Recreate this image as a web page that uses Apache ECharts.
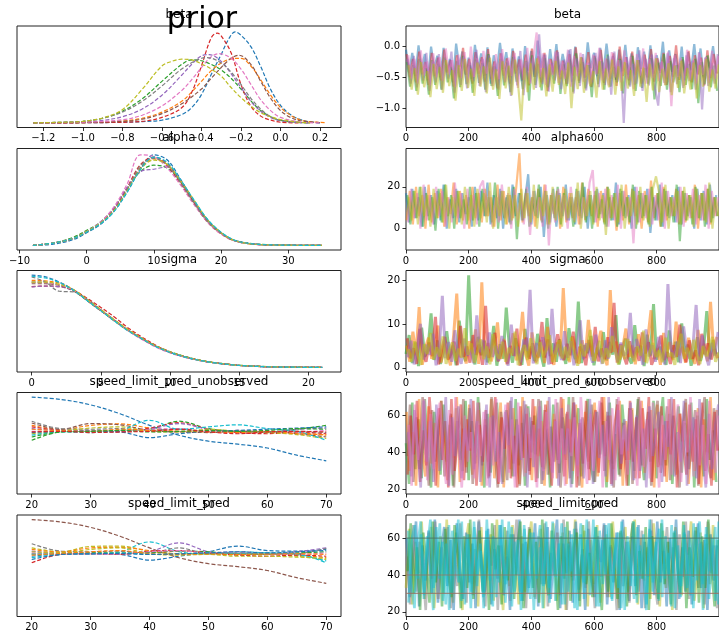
<!DOCTYPE html>
<html><head><meta charset="utf-8">
<script src="https://cdn.jsdelivr.net/npm/echarts@6/dist/echarts.min.js"></script>
<style>html,body{margin:0;padding:0;background:#fff}#c{width:719px;height:636px}</style>
</head><body><div id="c"></div>
<script>
// ---------------- DATA ----------------
const suptitle = 'prior';
const varNames = ['beta', 'alpha', 'sigma', 'speed_limit_pred_unobserved', 'speed_limit_pred'];

// tick labels
const betaKdeTicks = [-1.2, -1.0, -0.8, -0.6, -0.4, -0.2, 0.0, 0.2];
const alphaKdeTicks = [-10, 0, 10, 20, 30];
const sigmaKdeTicks = [0, 5, 10, 15, 20];
const predKdeTicks = [20, 30, 40, 50, 60, 70];
const drawTicks = [0, 200, 400, 600, 800];
const betaTraceTicks = [-1.0, -0.5, 0.0];
const alphaTraceTicks = [0, 20];
const sigmaTraceTicks = [0, 10, 20];
const predTraceTicks = [20, 40, 60];

// beta KDE curves per chain: [value, density]
const betaKdeBlue = [[-1.25,0],[-1.0,0.005],[-0.8,0.02],[-0.7,0.04],[-0.6,0.09],[-0.5,0.27],[-0.45,0.49],[-0.4,0.92],[-0.35,1.58],[-0.3,2.23],[-0.26,2.75],[-0.23,2.96],[-0.2,2.85],[-0.15,2.48],[-0.1,1.83],[-0.05,1.09],[0.0,0.57],[0.05,0.27],[0.1,0.11],[0.15,0.03],[0.2,0]];
const betaKdeOrange = [[-1.25,0],[-1.0,0.01],[-0.8,0.06],[-0.7,0.15],[-0.6,0.35],[-0.5,0.7],[-0.45,1.0],[-0.4,1.35],[-0.35,1.7],[-0.3,1.95],[-0.25,2.08],[-0.2,2.1],[-0.15,1.85],[-0.1,1.4],[-0.05,0.9],[0.0,0.5],[0.05,0.25],[0.1,0.1],[0.15,0.04],[0.23,0.01]];
const betaKdeGreen = [[-1.25,0],[-1.1,0.02],[-1.0,0.05],[-0.9,0.15],[-0.8,0.38],[-0.7,0.78],[-0.6,1.35],[-0.5,1.9],[-0.45,2.05],[-0.4,2.02],[-0.35,1.9],[-0.3,1.72],[-0.25,1.45],[-0.2,1.1],[-0.15,0.72],[-0.1,0.4],[-0.05,0.2],[0.0,0.08],[0.1,0.01],[0.15,0]];
const betaKdeRed = [[-1.25,0],[-0.9,0.01],[-0.7,0.05],[-0.6,0.18],[-0.5,0.49],[-0.45,0.98],[-0.4,1.85],[-0.35,2.77],[-0.32,2.92],[-0.3,2.83],[-0.25,2.28],[-0.2,1.25],[-0.15,0.54],[-0.1,0.22],[-0.05,0.09],[0.0,0.02],[0.1,0]];
const betaKdePurple = [[-1.25,0],[-1.0,0.03],[-0.9,0.08],[-0.8,0.2],[-0.7,0.45],[-0.6,0.9],[-0.5,1.55],[-0.45,1.9],[-0.4,2.18],[-0.36,2.22],[-0.3,2.0],[-0.25,1.6],[-0.2,1.15],[-0.15,0.7],[-0.1,0.38],[-0.05,0.18],[0.0,0.07],[0.1,0.01],[0.15,0]];
const betaKdeBrown = [[-1.25,0],[-1.0,0.01],[-0.8,0.05],[-0.7,0.12],[-0.6,0.3],[-0.5,0.62],[-0.4,1.1],[-0.35,1.45],[-0.3,1.8],[-0.25,2.1],[-0.21,2.2],[-0.15,1.9],[-0.1,1.35],[-0.05,0.8],[0.0,0.4],[0.05,0.18],[0.1,0.07],[0.2,0.01]];
const betaKdePink = [[-1.25,0],[-1.0,0.02],[-0.8,0.1],[-0.7,0.25],[-0.6,0.55],[-0.5,1.05],[-0.45,1.4],[-0.4,1.8],[-0.35,2.15],[-0.31,2.25],[-0.25,2.1],[-0.2,1.75],[-0.15,1.25],[-0.1,0.75],[-0.05,0.4],[0.0,0.18],[0.1,0.03],[0.2,0]];
const betaKdeGray = [[-1.25,0],[-1.1,0.02],[-1.0,0.05],[-0.9,0.15],[-0.8,0.35],[-0.7,0.7],[-0.6,1.2],[-0.5,1.75],[-0.4,2.1],[-0.37,2.12],[-0.3,1.95],[-0.25,1.65],[-0.2,1.25],[-0.15,0.8],[-0.1,0.45],[-0.05,0.2],[0.0,0.08],[0.1,0.01]];
const betaKdeOlive = [[-1.25,0],[-1.1,0.02],[-1.0,0.05],[-0.9,0.16],[-0.8,0.43],[-0.7,1.09],[-0.6,1.85],[-0.55,2.0],[-0.5,2.07],[-0.45,2.05],[-0.4,1.92],[-0.35,1.75],[-0.3,1.52],[-0.25,1.15],[-0.2,0.82],[-0.15,0.55],[-0.1,0.33],[-0.05,0.2],[0.0,0.11],[0.1,0.02],[0.15,0]];

// alpha KDE
const alphaKdeX = [-8,-5,-2,0,2,4,6,8,10,12,14,16,18,20,22,25,30,35];
const alphaKdeY = [
  [0,0.001,0.005,0.011,0.018,0.029,0.046,0.066,0.0785,0.074,0.057,0.038,0.022,0.011,0.0045,0.0012,0.0002,0],
  [0,0.002,0.006,0.012,0.019,0.03,0.048,0.067,0.075,0.07,0.055,0.037,0.021,0.0105,0.004,0.001,0.0002,0],
  [0,0.002,0.007,0.013,0.02,0.032,0.049,0.064,0.0695,0.067,0.055,0.038,0.022,0.011,0.0045,0.0013,0.0002,0],
  [0,0.002,0.006,0.012,0.019,0.031,0.05,0.07,0.0765,0.069,0.053,0.036,0.02,0.01,0.004,0.001,0.0001,0],
  [0,0.002,0.006,0.012,0.02,0.032,0.05,0.064,0.066,0.068,0.056,0.038,0.021,0.0105,0.004,0.001,0.0002,0],
  [0,0.002,0.006,0.0115,0.019,0.03,0.047,0.067,0.0765,0.071,0.055,0.037,0.021,0.0108,0.0042,0.001,0.0002,0],
  [0,0.002,0.006,0.012,0.02,0.033,0.053,0.0785,0.077,0.067,0.052,0.035,0.02,0.0098,0.004,0.001,0.0002,0],
  [0,0.002,0.006,0.0118,0.019,0.03,0.048,0.069,0.0755,0.0695,0.054,0.0365,0.0205,0.0104,0.004,0.001,0.0002,0],
  [0,0.002,0.006,0.012,0.019,0.03,0.047,0.066,0.074,0.07,0.056,0.039,0.022,0.011,0.0042,0.001,0.0002,0],
  [0,0.002,0.006,0.0115,0.0185,0.029,0.046,0.066,0.0765,0.072,0.0565,0.039,0.0225,0.0115,0.0045,0.0012,0.0002,0]
];

// sigma KDE
const sigmaKdeX = [0,1,2,3,4,5,6,7,8,9,10,11,12,13,14,15,17,19,21];
const sigmaKdeY = [
  [0.16,0.157,0.148,0.135,0.117,0.099,0.081,0.064,0.049,0.036,0.026,0.018,0.0125,0.0085,0.0055,0.0033,0.001,0.0003,0],
  [0.151,0.15,0.146,0.135,0.118,0.1,0.082,0.065,0.05,0.037,0.026,0.019,0.013,0.0088,0.006,0.0036,0.0012,0.0004,0],
  [0.148,0.147,0.143,0.133,0.116,0.098,0.08,0.063,0.049,0.037,0.027,0.0195,0.0135,0.009,0.006,0.0038,0.0015,0.0006,0.0002],
  [0.14,0.141,0.14,0.134,0.12,0.104,0.087,0.068,0.052,0.038,0.027,0.019,0.013,0.0085,0.0055,0.0033,0.001,0.0003,0],
  [0.1395,0.141,0.14,0.133,0.117,0.099,0.081,0.064,0.049,0.036,0.026,0.0185,0.0127,0.0086,0.0058,0.0034,0.0011,0.0003,0],
  [0.145,0.145,0.142,0.133,0.116,0.098,0.081,0.064,0.0495,0.036,0.026,0.0187,0.0128,0.0087,0.0058,0.0035,0.0012,0.0004,0],
  [0.148,0.147,0.143,0.134,0.117,0.099,0.081,0.063,0.048,0.035,0.025,0.018,0.0125,0.0085,0.0057,0.0034,0.0011,0.0003,0],
  [0.157,0.148,0.132,0.131,0.118,0.1,0.082,0.064,0.049,0.036,0.026,0.0187,0.013,0.0088,0.006,0.0035,0.0012,0.0004,0],
  [0.148,0.148,0.144,0.135,0.118,0.1,0.082,0.065,0.05,0.037,0.027,0.019,0.0131,0.0088,0.0058,0.0035,0.0012,0.0004,0],
  [0.158,0.155,0.147,0.134,0.116,0.098,0.08,0.063,0.049,0.036,0.026,0.0186,0.0128,0.0086,0.0057,0.0034,0.0011,0.0003,0]
];

// speed limit KDEs
const predKdeX = [20,25,30,35,40,45,50,55,60,65,70];
const unobsKdeY = [
  [0.031,0.0302,0.0284,0.0254,0.0215,0.0182,0.0162,0.0152,0.0139,0.0115,0.0096],
  [0.0215,0.0201,0.0215,0.022,0.0206,0.0195,0.0198,0.0193,0.0195,0.0191,0.0182],
  [0.0165,0.0193,0.0195,0.0198,0.0202,0.0229,0.0204,0.0195,0.0193,0.0202,0.0215],
  [0.021,0.0198,0.0195,0.0193,0.0206,0.0224,0.0202,0.0191,0.0187,0.0193,0.0187],
  [0.0204,0.0198,0.0198,0.0195,0.0202,0.0221,0.0202,0.0195,0.0193,0.0202,0.0206],
  [0.0223,0.0202,0.0221,0.0217,0.0198,0.0193,0.0191,0.0195,0.0193,0.0187,0.0176],
  [0.0195,0.0195,0.0193,0.0195,0.0202,0.0204,0.0195,0.0198,0.0195,0.0193,0.0198],
  [0.0229,0.0204,0.0202,0.0204,0.0198,0.0202,0.0195,0.0198,0.0193,0.0195,0.0191],
  [0.0187,0.0196,0.0206,0.021,0.0195,0.0193,0.0202,0.0195,0.0191,0.0184,0.0171],
  [0.0182,0.0193,0.0191,0.0198,0.0232,0.0202,0.021,0.0217,0.0204,0.0195,0.0165],
  [0.0191,0.0195,0.0195,0.0193,0.0174,0.0187,0.0195,0.0198,0.0202,0.0206,0.021],
  [0.0202,0.0197,0.0195,0.0202,0.0198,0.0195,0.0193,0.0191,0.0195,0.0187,0.0184],
  [0.0176,0.0193,0.0195,0.0198,0.0193,0.0195,0.0198,0.0195,0.0198,0.0204,0.0202],
  [0.0193,0.0195,0.0191,0.0193,0.0195,0.0202,0.0193,0.0187,0.0193,0.0195,0.0193]
];
const predKdeY = [
  [0.031,0.0302,0.0284,0.0254,0.0215,0.0182,0.0162,0.0152,0.0139,0.0115,0.0096],
  [0.0187,0.0195,0.0195,0.0193,0.0174,0.0187,0.0202,0.0221,0.0206,0.0204,0.021],
  [0.0182,0.0193,0.0195,0.0202,0.0235,0.0202,0.0195,0.0202,0.0198,0.0195,0.0165],
  [0.0204,0.0198,0.0198,0.0195,0.0202,0.0232,0.0202,0.0195,0.0193,0.0202,0.0215],
  [0.0229,0.0204,0.0202,0.0204,0.0198,0.0215,0.0195,0.0198,0.0193,0.0195,0.0213],
  [0.0215,0.0202,0.022,0.0221,0.0204,0.0195,0.0195,0.0191,0.0193,0.0187,0.0176],
  [0.021,0.0201,0.0215,0.0217,0.0206,0.0195,0.0198,0.0193,0.0195,0.0191,0.0182],
  [0.0195,0.0196,0.0198,0.0198,0.0199,0.0204,0.0202,0.0195,0.0195,0.0198,0.0202],
  [0.0165,0.0193,0.0195,0.0193,0.0204,0.0206,0.0198,0.0191,0.0187,0.0191,0.0187],
  [0.0198,0.0195,0.0193,0.0195,0.0202,0.0206,0.0198,0.0202,0.0195,0.0193,0.0198],
  [0.0193,0.0195,0.0195,0.0198,0.0193,0.0195,0.0198,0.0195,0.0198,0.0193,0.0171],
  [0.0202,0.0198,0.021,0.0215,0.0195,0.0191,0.0193,0.0187,0.0187,0.0184,0.018],
  [0.0191,0.0196,0.0202,0.0206,0.0195,0.0193,0.0195,0.0193,0.0195,0.0195,0.0193],
  [0.0176,0.0193,0.0195,0.0196,0.0193,0.0195,0.0198,0.0202,0.0198,0.0202,0.0206]
];

// traces (every 10th draw of each chain)
const betaTrace = [
 [-0.05,-0.42,-0.1,-0.48,0.02,-0.38,-0.12,-0.55,0.0,-0.35,-0.15,-0.5,-0.02,-0.4,-0.2,-0.58,0.05,-0.33,-0.08,-0.45,-0.18,-0.52,0.03,-0.37,-0.11,-0.47,-0.01,-0.6,-0.14,-0.4,0.06,-0.36,-0.09,-0.5,-0.03,-0.44,-0.16,-0.56,0.01,-0.39,-0.07,-0.49,0.1,-0.34,-0.13,-0.53,-0.04,-0.42,0.04,-0.46,-0.12,-0.38,-0.06,-0.57,0.0,-0.41,-0.17,-0.51,0.07,-0.35,-0.1,-0.48,-0.02,-0.43,0.05,-0.37,-0.15,-0.54,-0.05,-0.4,0.03,-0.46,-0.11,-0.62,-0.01,-0.36,-0.08,-0.5,0.02,-0.44,-0.14,-0.39,0.08,-0.52,-0.06,-0.41,-0.12,-0.47,0.0,-0.55,-0.09,-0.38,0.04,-0.45,-0.03,-0.5,-0.16,-0.35,0.01,-0.43],
 [-0.12,-0.5,-0.2,-0.58,-0.08,-0.45,-0.25,-0.62,-0.1,-0.48,-0.18,-0.55,-0.05,-0.42,-0.22,-0.65,-0.14,-0.5,-0.02,-0.46,-0.2,-0.6,-0.09,-0.44,-0.17,-0.57,-0.04,-0.52,-0.24,-0.68,-0.11,-0.47,-0.19,-0.6,-0.07,-0.43,-0.21,-0.54,-0.13,-0.63,-0.03,-0.49,-0.16,-0.58,-0.1,-0.72,-0.2,-0.45,-0.06,-0.53,-0.23,-0.61,-0.12,-0.47,-0.01,-0.56,-0.18,-0.5,-0.09,-0.66,-0.15,-0.44,-0.05,-0.59,-0.2,-0.52,-0.11,-0.64,0.0,-0.48,-0.17,-0.55,-0.08,-0.46,-0.22,-0.6,-0.13,-0.5,-0.04,-0.57,-0.19,-0.43,-0.1,-0.62,-0.15,-0.49,0.02,-0.54,-0.21,-0.47,-0.07,-0.58,-0.14,-0.45,-0.18,-0.63,-0.06,-0.51,-0.12,-0.44],
 [-0.25,-0.65,-0.3,-0.72,-0.2,-0.6,-0.35,-0.78,-0.22,-0.62,-0.28,-0.7,-0.18,-0.58,-0.33,-0.84,-0.24,-0.66,-0.15,-0.61,-0.3,-0.75,-0.21,-0.59,-0.27,-0.7,-0.12,-0.64,-0.32,-0.8,-0.2,-0.63,-0.26,-0.74,-0.17,-0.57,-0.31,-0.69,-0.23,-0.88,-0.14,-0.62,-0.28,-0.71,-0.19,-0.66,-0.34,-0.6,-0.16,-0.77,-0.29,-0.64,-0.21,-0.73,-0.11,-0.59,-0.25,-0.68,-0.3,-0.82,-0.18,-0.61,-0.24,-0.7,-0.13,-0.65,-0.33,-0.58,-0.2,-0.76,-0.27,-0.63,-0.15,-0.72,-0.22,-0.67,-0.35,-0.6,-0.19,-0.86,-0.26,-0.64,-0.12,-0.7,-0.23,-0.58,-0.3,-0.74,-0.17,-0.62,-0.28,-0.69,-0.2,-0.92,-0.25,-0.61,-0.14,-0.66,-0.31,-0.72],
 [-0.2,-0.6,-0.15,-0.66,-0.28,-0.55,-0.1,-0.72,-0.24,-0.58,-0.12,-0.7,-0.3,-0.52,-0.08,-0.75,-0.22,-0.62,-0.17,-0.68,-0.26,-0.56,-0.05,-0.64,-0.2,-0.74,-0.14,-0.6,-0.29,-0.7,-0.11,-0.58,-0.23,-0.8,-0.16,-0.63,-0.07,-0.79,-0.25,-0.57,-0.18,-0.67,0.2,-0.61,-0.13,-0.73,-0.27,-0.55,-0.09,-0.69,-0.21,-0.6,-0.04,-0.76,-0.19,-0.64,-0.12,-0.71,-0.26,-0.58,-0.1,-0.66,-0.24,-0.62,-0.15,-0.78,-0.08,-0.57,-0.22,-1.24,-0.17,-0.65,-0.28,-0.6,-0.06,-0.72,-0.2,-0.63,-0.13,-0.68,-0.96,-0.25,-0.59,-0.11,-0.74,-0.19,-0.61,-0.27,-0.67,-0.14,-0.56,-0.23,-0.7,-0.09,-1.02,-0.18,-0.64,-0.26,-0.6,-0.12],
 [-0.14,-0.52,-0.2,-0.6,-0.06,-0.47,-0.24,-0.63,-0.11,-0.5,-0.17,-0.56,-0.03,-0.45,-0.22,-0.66,-0.13,-0.51,-0.09,-0.58,0.0,-0.49,-0.19,-0.61,-0.07,-0.44,-0.25,-0.64,-0.12,-0.53,-0.04,-0.57,-0.18,-0.48,-0.1,-0.67,-0.21,-0.54,-0.02,-0.6,-0.16,0.23,-0.5,-0.11,-0.62,-0.2,-0.46,-0.08,-0.59,-0.23,-0.52,-0.05,-0.65,-0.15,-0.48,-0.1,-0.57,-0.26,-0.61,-0.13,-0.45,-0.02,-0.55,-0.19,-0.63,-0.09,-0.5,-0.22,-0.58,-0.06,-0.53,-0.16,-0.69,-0.12,-0.47,-0.03,-0.6,-0.2,-0.51,-0.1,-0.56,-0.24,-0.62,-0.08,-0.97,-0.14,-0.49,-0.18,-0.64,-0.05,-0.54,-0.21,-0.6,-0.11,-0.46,-0.17,-0.59,-0.07,-0.52,-0.15],
 [-0.3,-0.7,-0.35,-0.78,-0.25,-0.66,-0.4,-0.82,-0.28,-0.69,-0.33,-0.75,-0.22,-0.64,-0.38,-0.88,-0.3,-0.72,-0.2,-0.67,-0.36,-0.8,-0.26,-0.65,-0.32,-0.76,-0.18,-0.7,-0.37,-0.85,-0.24,-0.68,-0.31,-0.79,-0.21,-0.63,-1.2,-0.34,-0.74,-0.27,-0.7,-0.19,-0.66,-0.35,-0.81,-0.29,-0.73,-0.23,-0.62,-0.39,-0.77,-0.26,-1.0,-0.33,-0.69,-0.17,-0.75,-0.3,-0.64,-0.4,-0.83,-0.24,-0.7,-0.36,-0.66,-0.21,-0.78,-0.32,-0.72,-0.25,-0.68,-0.38,-0.8,-0.22,-0.65,-0.34,-0.9,-0.28,-0.71,-0.19,-0.74,-0.36,-0.63,-0.27,-0.79,-0.31,-0.67,-0.23,-0.76,-0.35,-0.7,-0.26,-0.84,-0.3,-0.65,-0.2,-0.73,-0.37,-0.68,-0.29]
];
const alphaTrace = [
 [17,3,19,5,15,1,20,6,16,2,18,4,21,0,14,5,19,3,17,7,15,1,20,4,18,6,22,2,16,5,19,0,15,3,21,6,17,4,14,26,2,18,5,20,-4,16,3,19,1,17,6,21,4,15,2,18,5,20,0,16,3,19,7,17,1,15,4,22,2,18,5,16,0,20,3,17,6,19,-2,15,4,21,1,18,5,16,3,20,2,17,6,15,0,19,4,18,2,21,5,16],
 [4,18,2,20,6,16,0,21,3,17,5,19,1,15,7,22,2,18,4,16,0,20,5,17,3,19,6,15,1,21,4,18,2,16,5,20,36,3,17,6,15,1,19,4,21,2,16,7,18,0,20,3,17,5,15,2,22,4,19,6,16,1,18,3,20,5,15,-1,17,4,21,2,19,6,16,0,18,3,23,5,17,1,20,4,15,6,19,2,18,3,16,5,21,0,17,4,19,2,15,6],
 [16,2,18,5,20,1,17,4,15,-1,19,3,21,6,16,0,18,5,14,2,20,4,17,1,19,6,15,3,22,0,18,5,16,2,20,-5,17,4,19,1,15,6,21,3,18,0,16,5,20,2,17,4,15,1,19,6,22,3,16,0,18,5,14,2,20,4,17,1,19,6,15,3,21,0,18,5,16,2,20,4,17,1,19,6,15,3,21,-6,18,4,16,2,20,5,17,1,19,3,15,6],
 [3,19,5,17,0,21,4,16,2,20,6,18,1,15,3,22,5,17,0,19,4,16,2,20,23,6,18,1,15,3,21,5,17,0,19,4,16,2,20,-3,18,6,15,1,21,-8,17,3,19,5,16,0,20,4,18,2,15,6,22,28,3,17,5,19,1,16,4,21,0,18,6,15,-7,20,3,17,5,19,2,16,4,22,0,18,6,15,3,20,1,17,5,19,2,16,4,21,0,18,6,15],
 [15,4,18,2,20,6,16,1,19,5,17,3,21,0,15,6,18,2,20,4,16,1,19,5,17,3,22,0,15,6,18,2,20,4,16,1,19,5,17,3,21,0,15,6,18,2,20,4,16,1,19,5,17,3,22,0,15,6,18,2,20,4,16,-3,19,5,17,3,21,0,15,6,18,2,20,4,16,1,19,25,17,3,21,0,15,6,18,2,20,4,16,1,19,5,17,3,22,0,15,6]
];
const sigmaTrace = [
 [3.2,7.5,1.1,5.8,0.4,9.2,2.6,4.1,12.5,1.8,6.3,0.9,3.7,8.4,2.2,5.1,0.6,10.8,3.9,1.5,21.2,4.4,0.8,7.1,2.9,6.2,1.3,3.5,9.6,0.5,5.4,2.1,13.8,4.7,1.2,6.8,3.1,0.7,8.9,2.4,4.9,1.6,7.8,3.3,0.3,11.4,2.7,5.6,1.4,6.5,3.8,0.9,9.1,4.2,2.0,15.2,1.1,5.2,3.4,7.3,0.6,4.6,2.5,8.2,1.7,5.9,3.0,12.1,0.8,4.0,6.7,2.3,1.0,9.8,3.6,5.0,0.4,7.6,2.8,14.6,1.9,4.8,3.2,0.7,8.6,2.2,6.0,1.3,10.2,3.7,5.3,0.5,2.9,7.0,1.6,4.5,13.0,2.0,6.4,3.1],
 [5.1,1.4,8.3,2.9,13.9,0.7,4.6,6.9,2.1,3.8,9.7,1.2,5.5,3.0,0.6,7.4,17.0,2.4,4.9,1.0,6.1,3.3,8.8,0.9,19.6,2.6,5.7,1.5,4.3,10.4,2.0,6.6,0.8,3.9,7.9,1.7,5.2,12.8,3.1,0.5,8.1,4.0,2.3,6.4,1.1,9.4,3.6,0.7,5.8,2.7,18.3,4.5,1.3,7.2,3.4,0.9,6.3,2.2,11.0,4.1,1.6,5.4,8.5,2.8,0.6,17.8,3.7,6.0,1.9,4.7,9.0,2.5,5.1,0.8,7.7,3.2,1.4,6.8,13.2,2.1,4.4,0.7,8.0,3.5,5.9,1.8,10.6,2.9,4.8,1.2,6.9,3.0,0.9,8.7,2.4,5.5,1.5,15.1,3.8,7.1],
 [6.8,2.2,4.5,0.9,8.9,3.6,1.4,5.8,2.7,11.7,0.8,4.2,7.1,1.9,3.3,6.0,0.6,9.6,2.5,4.9,1.2,7.5,3.0,5.3,0.7,14.2,2.3,4.6,8.0,1.5,3.8,6.2,1.0,5.0,2.8,9.0,0.5,4.3,6.9,2.1,5.6,1.3,3.5,10.5,2.4,6.5,0.9,4.1,7.7,3.2,1.8,5.5,2.9,8.3,1.1,4.8,3.7,0.6,6.4,2.6,9.4,1.5,4.4,2.0,7.0,3.4,14.9,1.2,5.4,3.0,0.8,6.1,2.4,4.7,1.6,8.1,3.3,5.9,0.7,2.7,4.6,7.4,1.8,3.6,0.9,5.2,2.5,9.9,3.9,1.3,6.3,2.1,4.0,0.6,7.8,3.1,5.6,1.9,4.3,2.2],
 [2.4,6.2,0.8,4.5,10.1,1.9,5.3,3.0,7.8,0.6,3.7,16.5,2.2,5.9,1.4,8.6,3.2,0.9,6.7,2.8,4.1,1.1,12.0,3.6,6.4,0.7,8.1,2.5,5.0,1.6,7.3,3.4,0.5,9.9,2.7,4.8,1.3,6.5,3.9,17.9,1.0,5.7,2.6,7.0,4.2,0.8,13.5,3.1,5.4,1.8,8.4,2.3,6.1,0.6,4.6,10.9,2.0,5.6,3.3,1.2,7.6,3.8,0.9,6.3,2.1,9.3,4.4,1.5,5.8,2.9,3.5,12.6,1.7,6.6,4.0,0.7,8.8,2.6,5.2,1.4,7.1,3.0,0.8,19.2,4.3,2.4,6.0,1.1,9.5,3.6,2.2,5.0,14.4,1.6,7.4,3.2,0.6,5.7,2.8,8.2],
 [4.3,1.5,6.1,2.8,0.7,5.4,3.2,8.0,1.9,4.7,2.6,7.2,0.9,3.9,5.8,1.6,4.4,2.3,9.1,3.0,5.6,1.2,3.7,6.5,2.0,4.9,0.8,7.7,3.3,2.1,6.0,1.4,4.6,2.9,8.3,0.6,3.5,5.2,1.8,6.8,3.1,0.9,5.9,2.5,4.2,7.5,1.3,3.8,6.3,2.2,4.8,1.7,7.0,3.4,0.5,5.5,2.7,4.1,8.7,1.6,3.6,6.2,1.0,4.5,2.4,7.3,3.9,0.8,5.1,2.0,6.6,3.2,1.5,4.9,2.8,8.5,1.1,3.7,5.7,2.5,4.0,1.3,6.9,2.6,3.4,0.7,5.3,7.8,2.1,4.6,1.9,6.4,3.1,0.9,5.0,2.7,4.2,7.1,1.4,3.5]
];
const unobsTrace = [
 [45,23,67,31,58,26,69,38,21,62,50,28,66,35,55,22,64,41,30,68,25,57,34,70,43,21,61,29,52,67,37,24,63,48,27,69,33,56,22,65,40,60,26,68,31,53,21,66,44,29,59,36,70,23,51,64,27,47,69,32,24,62,39,57,21,67,34,50,28,66,45,22,63,30,69,41,25,58,35,68,26,54,70,33,61,23,49,65,29,56,38,67,21,60,43,27,69,36,52,24],
 [62,30,51,22,69,40,27,65,34,56,21,68,43,25,60,37,70,24,53,32,66,28,48,63,22,58,35,69,26,44,67,21,55,31,64,42,23,70,29,50,25,65,38,57,22,68,33,61,26,47,69,23,58,30,66,39,21,62,35,54,67,27,49,70,24,60,31,45,68,22,57,36,64,26,51,68,29,42,63,21,66,33,55,24,69,38,28,61,46,67,23,52,30,64,21,58,40,70,25,63],
 [38,66,24,59,31,70,45,22,63,35,52,68,27,44,61,21,57,36,69,29,64,23,50,67,33,55,26,70,41,21,62,47,25,68,34,58,22,49,66,30,57,39,69,23,63,28,54,35,67,21,45,61,26,70,38,22,59,48,31,66,24,53,67,30,62,42,21,69,27,56,36,64,23,51,70,33,46,62,22,58,68,29,43,65,25,60,37,21,54,69,31,47,63,22,57,70,34,26,64,41],
 [28,60,39,68,24,52,33,70,45,22,64,36,57,21,69,30,48,66,25,58,41,68,22,55,35,63,27,50,70,23,59,42,67,26,49,21,65,37,61,28,69,24,53,32,66,43,22,58,36,70,27,62,40,67,21,56,34,68,25,51,63,29,70,38,60,23,54,66,31,47,22,68,35,59,26,64,42,70,24,53,32,65,27,57,39,69,21,61,44,28,66,35,58,23,67,30,50,22,62,41],
 [51,27,63,42,21,68,35,57,24,66,30,48,70,22,59,38,65,26,53,41,69,31,57,24,46,66,21,60,35,51,23,62,44,70,27,55,36,68,21,59,32,50,65,25,42,70,29,57,22,64,39,53,21,67,33,58,26,45,69,23,62,37,55,27,70,22,48,63,34,58,41,67,25,60,30,53,21,65,38,49,62,24,57,43,70,27,51,35,68,22,46,59,26,69,37,21,61,31,54,66],
 [55,22,66,36,48,69,25,61,31,57,67,40,23,63,28,70,44,21,60,35,51,26,67,38,62,22,59,33,69,24,46,66,29,58,21,67,41,27,64,37,55,21,68,30,62,45,26,69,34,53,22,66,38,59,27,70,43,23,61,30,49,68,21,57,36,64,25,70,39,55,28,63,44,22,68,32,58,26,67,47,21,60,36,69,28,52,66,24,57,40,70,27,62,33,55,23,68,45,29,60]
];
const predTrace = [
 [33,65,24,58,41,69,27,52,66,22,47,61,30,70,38,25,63,44,21,57,68,35,54,23,66,29,49,62,26,70,40,21,59,34,67,45,24,61,31,55,69,28,50,65,22,58,37,68,26,43,63,21,56,39,70,30,47,64,23,59,35,67,25,52,62,28,69,41,22,57,66,31,48,70,24,60,37,55,27,68,43,23,64,33,58,21,66,46,29,62,51,69,26,40,63,22,57,35,67,30],
 [60,28,49,69,23,56,37,64,30,70,25,52,66,34,59,21,68,42,27,63,36,57,22,69,45,31,65,24,54,38,67,29,50,21,62,40,70,26,58,33,46,68,23,60,35,66,27,53,70,22,57,41,64,25,69,32,51,21,65,38,28,59,47,68,24,55,36,63,21,70,43,26,61,34,67,22,58,39,64,29,69,36,53,23,60,41,70,27,55,31,64,24,48,68,33,59,21,62,37,56],
 [50,24,67,31,58,44,21,63,38,69,27,55,40,66,22,60,34,68,47,25,62,29,53,70,36,23,59,45,67,21,56,38,64,26,49,70,31,57,22,66,43,27,61,35,68,23,52,40,63,29,70,21,58,37,65,26,54,33,69,44,22,61,39,67,28,56,47,21,63,34,58,25,68,42,31,64,22,53,70,37,24,60,46,66,30,55,21,62,39,69,27,52,64,33,58,24,69,41,56,22],
 [42,68,30,55,21,63,47,25,69,36,58,23,65,40,28,67,51,22,61,33,70,27,48,64,31,59,21,68,43,56,24,66,37,62,27,53,69,22,46,65,33,58,25,70,41,29,64,48,21,61,38,69,26,55,63,23,67,35,52,28,66,42,21,60,31,68,45,27,64,50,23,57,69,29,53,38,66,21,61,44,27,68,35,58,24,63,47,30,69,22,55,39,66,25,61,33,70,44,23,59],
 [64,35,22,56,69,27,61,43,21,66,38,58,24,67,30,53,70,26,48,62,22,69,34,57,28,64,41,23,60,36,70,25,52,66,31,59,21,67,44,27,63,38,55,22,69,33,60,26,51,68,24,57,42,65,21,62,36,70,29,54,66,23,59,40,68,27,52,63,22,47,61,34,69,25,56,43,21,65,31,58,26,70,38,52,23,64,45,28,67,33,60,22,55,69,35,62,27,48,66,24],
 [25,59,67,38,62,29,55,70,33,48,68,26,57,21,64,45,36,69,24,60,31,66,40,53,22,70,37,61,28,67,50,35,69,23,58,42,26,65,30,63,21,54,67,34,60,25,69,39,57,24,66,31,62,22,48,68,27,59,40,70,23,64,35,67,51,26,60,33,69,21,58,45,27,66,38,62,24,70,36,55,65,28,61,40,67,22,56,34,63,48,29,68,37,57,21,66,42,60,26,69]
];
const predObserved = [60, 40, 30];

// ---------------- STYLE / LAYOUT ----------------
const tab10 = ['#1f77b4','#ff7f0e','#2ca02c','#d62728','#9467bd','#8c564b','#e377c2','#7f7f7f','#bcbd22','#17becf'];
const FONT = '"DejaVu Sans", sans-serif';
const tops = [26, 148.5, 270.5, 392.5, 515];
const H = 101.5;
const LX = 17, LW = 324, RX = 406, RW = 323;
const DRAW_STEP = 10;

const betaKdeCurves = [betaKdeBlue, betaKdeOrange, betaKdeGreen, betaKdeRed, betaKdePurple, betaKdeBrown, betaKdePink, betaKdeGray, betaKdeOlive];
const betaKdeColors = [0,1,2,3,4,5,6,7,8];
const tenColors = [0,1,2,3,4,5,6,7,8,9];
const unobsKdeColors = [0,1,2,3,4,5,6,7,8,9,0,1,2,3];
const predKdeColors = [5,0,9,4,7,8,1,2,3,6,9,8,1,0];

const rows = [
  {kde: betaKdeCurves, kdeColors: betaKdeColors, kxMin: -1.333, kxMax: 0.306, kyMin: -0.15, kyMax: 3.15, kTicks: betaKdeTicks, kDec: 1,
   trace: betaTrace, tColors: [0,3,2,4,6,8], tyMin: -1.315, tyMax: 0.336, tTicks: betaTraceTicks, tDec: 1, tw: 2.2, op: 0.5},
  {kde: alphaKdeY.map(ys => ys.map((y, i) => [alphaKdeX[i], y])), kdeColors: tenColors, kxMin: -10.37, kxMax: 37.84, kyMin: -0.004, kyMax: 0.084, kTicks: alphaKdeTicks, kDec: 0,
   trace: alphaTrace, tColors: [0,1,2,6,8], tyMin: -10.2, tyMax: 38.3, tTicks: alphaTraceTicks, tDec: 0, tw: 2.2, op: 0.5},
  {kde: sigmaKdeY.map(ys => ys.map((y, i) => [sigmaKdeX[i], y])), kdeColors: tenColors, kxMin: -1.06, kxMax: 22.35, kyMin: -0.008, kyMax: 0.168, kTicks: sigmaKdeTicks, kDec: 0,
   trace: sigmaTrace, tColors: [2,1,3,4,8], tyMin: -0.95, tyMax: 22.3, tTicks: sigmaTraceTicks, tDec: 0, tw: 3, op: 0.55},
  {kde: unobsKdeY.map(ys => ys.map((y, i) => [predKdeX[i], y])), kdeColors: unobsKdeColors, kxMin: 17.5, kxMax: 72.5, kyMin: -0.00155, kyMax: 0.03255, kTicks: predKdeTicks, kDec: 0,
   trace: unobsTrace, tColors: [2,1,5,3,4,6], tyMin: 17.5, tyMax: 72.5, tTicks: predTraceTicks, tDec: 0, tw: 2.6, op: 0.5},
  {kde: predKdeY.map(ys => ys.map((y, i) => [predKdeX[i], y])), kdeColors: predKdeColors, kxMin: 17.5, kxMax: 72.5, kyMin: -0.00155, kyMax: 0.03255, kTicks: predKdeTicks, kDec: 0,
   trace: predTrace, tColors: [8,0,7,2,9,9], tyMin: 17.5, tyMax: 72.5, tTicks: predTraceTicks, tDec: 0, tw: 2.6, op: 0.5}
];

function fmt(dec) { return v => Number(v).toFixed(dec).replace('-', '\u2212'); }
const labelStyle = {color: '#000', fontFamily: FONT, fontSize: 10};
const tickStyle = {show: true, inside: false, length: 3.5, lineStyle: {color: '#000', width: 0.8}};

const option = {animation: false, backgroundColor: '#fff', grid: [], xAxis: [], yAxis: [], series: [], graphic: []};

rows.forEach((r, k) => {
  const top = tops[k];
  // left KDE panel
  const gi = option.grid.length;
  option.grid.push({left: LX, top: top, width: LW, height: H, show: true, borderColor: '#222', borderWidth: 1, backgroundColor: 'transparent'});
  option.xAxis.push({type: 'value', gridIndex: gi, position: 'bottom', min: r.kxMin, max: r.kxMax, axisLine: {show: false, onZero: false}, splitLine: {show: false},
    axisTick: Object.assign({customValues: r.kTicks}, tickStyle),
    axisLabel: Object.assign({customValues: r.kTicks, margin: 6, formatter: fmt(r.kDec)}, labelStyle)});
  option.yAxis.push({type: 'value', gridIndex: gi, position: 'left', min: r.kyMin, max: r.kyMax, axisLine: {show: false, onZero: false}, axisTick: {show: false}, axisLabel: {show: false}, splitLine: {show: false}});
  r.kde.forEach((curve, j) => {
    option.series.push({type: 'line', xAxisIndex: gi, yAxisIndex: gi, data: curve, showSymbol: false, smooth: 0.35, silent: true,
      lineStyle: {color: tab10[r.kdeColors[j]], width: 1.2, type: [4, 2]}});
  });
  // right trace panel
  const gj = option.grid.length;
  option.grid.push({left: RX, top: top, width: RW, height: H, show: true, borderColor: '#222', borderWidth: 1, backgroundColor: 'transparent'});
  option.xAxis.push({type: 'value', gridIndex: gj, position: 'bottom', min: 0, max: 999, axisLine: {show: false, onZero: false}, splitLine: {show: false},
    axisTick: Object.assign({customValues: drawTicks}, tickStyle),
    axisLabel: Object.assign({customValues: drawTicks, margin: 6, formatter: fmt(0)}, labelStyle)});
  option.yAxis.push({type: 'value', gridIndex: gj, position: 'left', min: r.tyMin, max: r.tyMax, axisLine: {show: false, onZero: false}, splitLine: {show: false},
    axisTick: Object.assign({customValues: r.tTicks}, tickStyle),
    axisLabel: Object.assign({customValues: r.tTicks, margin: 6, formatter: fmt(r.tDec)}, labelStyle)});
  const n = r.trace.length;
  r.trace.forEach((chain, j) => {
    const off = Math.round(j * DRAW_STEP / n);
    option.series.push({type: 'line', xAxisIndex: gj, yAxisIndex: gj, data: chain.map((v, i) => [i * DRAW_STEP + off, v]), showSymbol: false, silent: true,
      lineStyle: {color: tab10[r.tColors[j]], width: r.tw, opacity: r.op}});
  });
  if (k === 4) {
    const obsColors = ['#4d7565', '#a0705f', '#9a6e5e'];
    predObserved.forEach((v, j) => {
      option.series.push({type: 'line', xAxisIndex: gj, yAxisIndex: gj, data: [[0, v], [999, v]], showSymbol: false, silent: true,
        lineStyle: {color: obsColors[j], width: 1.2, opacity: 0.75}});
    });
  }
  // titles
  [LX + LW / 2, RX + RW / 2].forEach(cx => {
    option.graphic.push({type: 'text', x: cx, y: top - 11, z: 100,
      style: {text: varNames[k], fill: '#000', font: '12px ' + FONT, align: 'center', verticalAlign: 'middle'}});
  });
});
option.graphic.push({type: 'text', x: 202, y: 20, z: 101,
  style: {text: suptitle, fill: '#000', font: '30px ' + FONT, align: 'center', verticalAlign: 'middle'}});

const chart = echarts.init(document.getElementById('c'), null, {renderer: 'canvas'});
chart.setOption(option);
</script>
</body></html>
